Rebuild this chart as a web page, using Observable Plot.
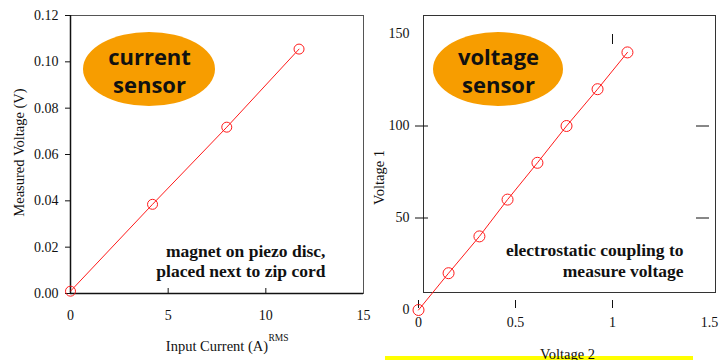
<!DOCTYPE html>
<html>
<head>
<meta charset="utf-8">
<script src="https://cdn.jsdelivr.net/npm/d3@7"></script>
<script src="https://cdn.jsdelivr.net/npm/@observablehq/plot@0.6"></script>
<style>
  html, body { margin: 0; padding: 0; background: #fff; }
  #root { position: relative; width: 721px; height: 360px; overflow: hidden; background: #fff; }
  #root > .panel { position: absolute; top: 0; }
  #band { position: absolute; left: 385px; top: 356px; width: 308px; height: 4px; background: #ffff00; }
</style>
</head>
<body>
<div id="root"><div id="band"></div></div>
<script>
// ---- Left panel: current sensor ----
const inputCurrent = [0, 4.2, 8.0, 11.7];
const measuredVoltage = [0.001, 0.0385, 0.0718, 0.1055];
const leftXTicks = [0, 5, 10, 15];
const leftYTicks = [0, 0.02, 0.04, 0.06, 0.08, 0.10, 0.12];

// ---- Right panel: voltage sensor ----
const voltage2 = [0, 0.155, 0.314, 0.459, 0.613, 0.763, 0.923, 1.077];
const voltage1 = [0, 20, 40, 60, 80, 100, 120, 140];
const rightXTicks = [0, 0.5, 1, 1.5];
const rightYTicks = [0, 50, 100, 150];

const leftData = inputCurrent.map((x, i) => ({x, y: measuredVoltage[i]}));
const rightData = voltage2.map((x, i) => ({x, y: voltage1[i]}));

const SERIF = "'Liberation Serif', 'Times New Roman', serif";
const SANS = "'Open Sans', 'DejaVu Sans', sans-serif";
const ORANGE = "#f79d00";
const RED = "#ff1a1a";

function ellipse(cx, cy, rx, ry, fill) {
  return () => {
    const e = document.createElementNS("http://www.w3.org/2000/svg", "ellipse");
    e.setAttribute("cx", cx); e.setAttribute("cy", cy);
    e.setAttribute("rx", rx); e.setAttribute("ry", ry);
    e.setAttribute("fill", fill);
    return e;
  };
}
const blank = () => "";

const baseStyle = {background: "transparent", overflow: "visible", fontFamily: SERIF, fontSize: "14px", color: "#111"};

const left = Plot.plot({
  width: 370, height: 360,
  marginLeft: 70, marginRight: 7, marginTop: 15, marginBottom: 67,
  style: baseStyle,
  x: {domain: [0, 15], label: null},
  y: {domain: [0, 0.12], label: null},
  marks: [
    ellipse(149, 69, 66, 37, ORANGE),
    Plot.frame({stroke: "#555"}),
    Plot.ruleX([0], {stroke: "#111", strokeWidth: 1.5}),
    Plot.ruleY([0], {stroke: "#111", strokeWidth: 1.5}),
    Plot.axisY({ticks: leftYTicks, tickSize: 5, tickPadding: 7, tickFormat: d3.format(".2f"), label: null, fontSize: 14}),
    Plot.axisX({ticks: [5, 10], tickSize: 5, dy: -5, tickFormat: blank, label: null}),
    Plot.axisX({ticks: leftXTicks, tickSize: 0, tickPadding: 17, label: null, fontSize: 14}),
    Plot.line(leftData, {x: "x", y: "y", stroke: RED, strokeWidth: 1}),
    Plot.dot(leftData, {x: "x", y: "y", r: 5, stroke: RED, strokeWidth: 1}),
    Plot.text(["current\nsensor"], {text: d => d, frameAnchor: "top-left", dx: 79, dy: 77, textAnchor: "middle", lineAnchor: "bottom", lineHeight: 1.27, fontFamily: SANS, fontWeight: "bold", fontSize: 22, fill: "#111"}),
    Plot.text(["magnet on piezo disc,\nplaced next to zip cord"], {text: d => d, frameAnchor: "top-right", dx: -38, dy: 261.5, textAnchor: "end", lineAnchor: "bottom", lineHeight: 1.17, fontFamily: SERIF, fontWeight: "bold", fontSize: 17.5, fill: "#111"}),
    Plot.text(["Measured Voltage (V)"], {text: d => d, frameAnchor: "left", rotate: -90, dx: -47, dy: -2, textAnchor: "middle", lineAnchor: "bottom", fontFamily: SERIF, fontSize: 14.5, fill: "#111"}),
    Plot.text(["Input Current (A)"], {text: d => d, frameAnchor: "bottom", dx: 0, dy: 57, textAnchor: "middle", lineAnchor: "bottom", fontFamily: SERIF, fontSize: 14.5, fill: "#111"}),
    Plot.text(["RMS"], {text: d => d, frameAnchor: "bottom-left", dx: 198, dy: 47, textAnchor: "start", lineAnchor: "bottom", fontFamily: SERIF, fontSize: 9.5, fill: "#111"})
  ]
});

const right = Plot.plot({
  width: 361, height: 360,
  marginLeft: 63, marginRight: 6, marginTop: 15, marginBottom: 68,
  style: baseStyle,
  x: {domain: [0, 1.5], range: [58, 349], label: null},
  y: {domain: [0, 150], range: [309.5, 33.5], label: null},
  marks: [
    ellipse(138, 69, 65, 37, ORANGE),
    Plot.frame({stroke: "#333"}),
    Plot.axisY({ticks: rightYTicks, tickSize: 0, tickPadding: 14, label: null, fontSize: 14}),
    Plot.axisY({ticks: [50, 100], tickSize: 13, dx: 5, tickFormat: blank, label: null}),
    Plot.axisY({anchor: "right", ticks: [50, 100], tickSize: 13, dx: -20, tickFormat: blank, label: null}),
    Plot.axisX({ticks: [0, 0.5, 1], tickSize: 8, dy: 8, tickFormat: blank, label: null}),
    Plot.axisX({anchor: "top", ticks: [1], tickSize: 10, dy: 28, tickFormat: blank, label: null}),
    Plot.axisX({ticks: rightXTicks, tickSize: 0, tickPadding: 25, tickFormat: d => String(d), label: null, fontSize: 14}),
    Plot.line(rightData, {x: "x", y: "y", stroke: RED, strokeWidth: 1}),
    Plot.dot(rightData, {x: "x", y: "y", r: 5.5, stroke: RED, strokeWidth: 1}),
    Plot.text(["voltage\nsensor"], {text: d => d, frameAnchor: "top-left", dx: 75, dy: 77, textAnchor: "middle", lineAnchor: "bottom", lineHeight: 1.27, fontFamily: SANS, fontWeight: "bold", fontSize: 22, fill: "#111"}),
    Plot.text(["electrostatic coupling to\nmeasure voltage"], {text: d => d, frameAnchor: "top-right", dx: -32, dy: 261, textAnchor: "end", lineAnchor: "bottom", lineHeight: 1.2, fontFamily: SERIF, fontWeight: "bold", fontSize: 17.5, fill: "#111"}),
    Plot.text(["Voltage 1"], {text: d => d, frameAnchor: "left", rotate: -90, dx: -40, dy: 23.5, textAnchor: "middle", lineAnchor: "bottom", fontFamily: SERIF, fontSize: 14.5, fill: "#111"}),
    Plot.text(["Voltage 2"], {text: d => d, frameAnchor: "bottom", dx: -2, dy: 66, textAnchor: "middle", lineAnchor: "bottom", fontFamily: SERIF, fontSize: 14.5, fill: "#111"})
  ]
});

const root = document.getElementById("root");
const lp = document.createElement("div"); lp.className = "panel"; lp.style.left = "0px"; lp.appendChild(left);
const rp = document.createElement("div"); rp.className = "panel"; rp.style.left = "360px"; rp.appendChild(right);
root.appendChild(lp); root.appendChild(rp);
</script>
</body>
</html>
